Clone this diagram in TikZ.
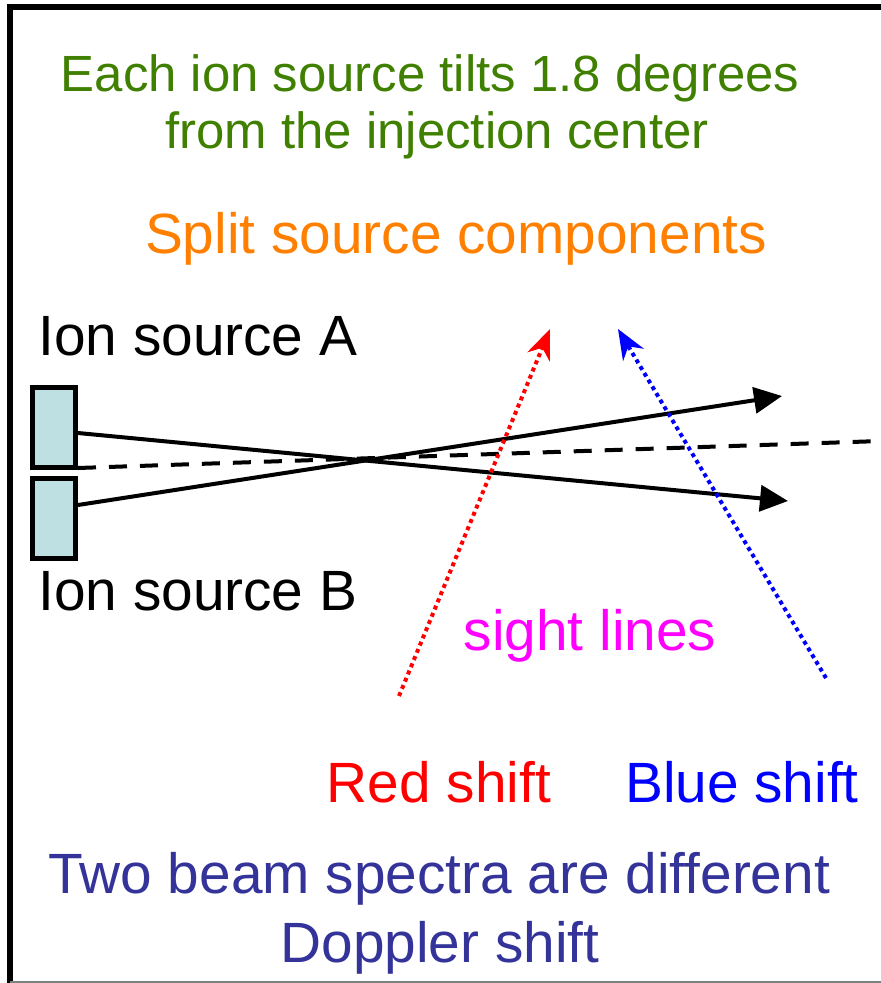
\documentclass[tikz,border=0pt]{standalone}
\usepackage{fontspec}
\setmainfont{Liberation Sans}
\usetikzlibrary{arrows.meta}
\definecolor{mygreen}{RGB}{64,128,0}
\definecolor{myorange}{RGB}{255,128,0}
\definecolor{mynavy}{RGB}{51,51,153}
\definecolor{mycyan}{RGB}{191,224,227}
\definecolor{mymagenta}{RGB}{255,0,255}
\tikzset{
  bigtext/.style={font=\fontsize{28.4}{34}\selectfont,anchor=base,inner sep=0pt},
  greentext/.style={bigtext,mygreen,font=\fontsize{25.45}{30}\selectfont},
  srcbox/.style={draw,line width=2.5pt,fill=mycyan,minimum width=21.5pt,minimum height=40pt,inner sep=0pt},
  beam/.style={line width=2pt,-{Triangle[length=14pt,width=13pt]}},
  sight/.style={line width=2pt,dash pattern=on 2pt off 1.9pt,-{Stealth[length=15pt,width=12pt]}}
}

\begin{document}
\begin{tikzpicture}[x=0.5pt,y=-0.5pt]
  \useasboundingbox (0,0) rectangle (881,983);
  % frame
  \draw[line width=3pt] (10,983) -- (10,7) -- (881,7);
  \draw[gray,line width=0.6pt] (10,982) -- (881,982);
  % headings
  \node[greentext] (tilt1) at (430,92) {Each ion source tilts 1.8 degrees};
  \node[greentext] (tilt2) at (437,149) {from the injection center};
  \node[bigtext,myorange] (split) at (456,254) {Split source components};
  % sources
  \node[srcbox] (srcA) at (54,427.5) {};
  \node[srcbox] (srcB) at (54,518.5) {};
  \node[bigtext,anchor=base west] (labA) at (38,356) {Ion source A};
  \node[bigtext,anchor=base west] (labB) at (38,610) {Ion source B};
  \coordinate (tipA) at (788,501);
  \coordinate (tipB) at (782,396);
  \draw[beam] ([yshift=-2.75pt]srcA.east) -- (tipA);
  \draw[beam] ([yshift=6.75pt]srcB.east) -- (tipB);
  \coordinate (mid) at (78,468);
  \coordinate (axis) at (881,441);
  \draw[line width=2pt,dash pattern=on 9pt off 6.5pt] (mid) -- (axis);
  % sight lines
  \coordinate (redfoot) at (399,696);
  \coordinate (redtip) at (550,329);
  \coordinate (bluefoot) at (826,678);
  \coordinate (bluetip) at (618,329);
  \draw[sight,red] (redfoot) -- (redtip);
  \draw[sight,blue] (bluefoot) -- (bluetip);
  \node[bigtext,mymagenta] (sight) at (590,650) {sight lines};
  \node[bigtext,red] (redlab) at (439,802) {Red shift};
  \node[bigtext,blue] (bluelab) at (742,802) {Blue shift};
  \node[bigtext,mynavy] (diff1) at (439,893) {Two beam spectra are different};
  \node[bigtext,mynavy] (diff2) at (440,962) {Doppler shift};
\end{tikzpicture}
\end{document}
